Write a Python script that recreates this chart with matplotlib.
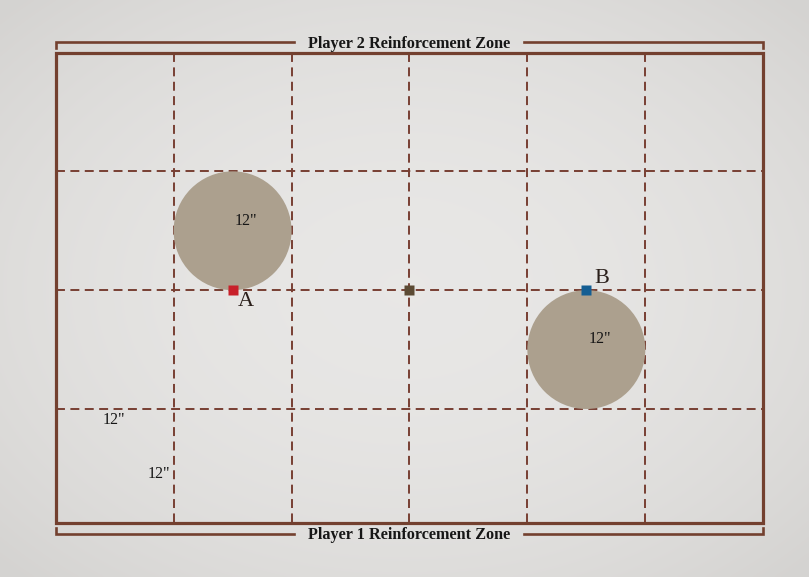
import matplotlib
matplotlib.use("Agg")
import matplotlib.pyplot as plt
import numpy as np
from matplotlib.patches import Circle, Rectangle

# Board (inches), y measured from the top edge (Player 2 side)
board_w, board_h = 72, 47.55
grid_step = 12
zone_offset = 1.05
zone_tick = 0.55

# Objective circles
circles_x = [18, 54]
circles_y = [18, 30]
circles_r = [6, 6]
circle_label_x = [19.4, 55.4]
circle_label_y = [17.0, 28.9]
circle_labels = ['12"', '12"']

# Markers
markers_x = [18, 54, 36]
markers_y = [24, 24, 24]
markers_color = ["#c8202a", "#145e93", "#5b4a33"]
marker_text = ["A", "B"]
marker_text_x = [19.3, 55.6]
marker_text_y = [25.1, 22.8]

# Measurement labels
meas_x = [5.9, 10.45]
meas_y = [37.1, 42.6]
meas_text = ['12"', '12"']

zone_titles = ["Player 2 Reinforcement Zone", "Player 1 Reinforcement Zone"]

bg = "#dedddb"
line_col = "#73402f"
dash_col = "#783f33"

fig = plt.figure(figsize=(8.09, 5.77), dpi=100)
fig.patch.set_facecolor(bg)
ax = fig.add_axes([0, 0, 1, 1])
x0, x1 = -5.67, 76.66
y0, y1 = -5.31, 52.97
ax.set_xlim(x0, x1)
ax.set_ylim(y1, y0)
ax.axis("off")

# soft vignette background (light centre, slightly darker edges)
gx = np.linspace(-1, 1, 400)
gy = np.linspace(-1, 1, 300)
XX, YY = np.meshgrid(gx, gy)
rr = np.clip(np.sqrt(XX**2 * 0.9 + YY**2 * 0.9), 0, 1.3)
light = np.array([0.910, 0.906, 0.900])
dark = np.array([0.835, 0.830, 0.822])
t = (rr / 1.3) ** 2
img = light[None, None, :] * (1 - t[..., None]) + dark[None, None, :] * t[..., None]
ax.imshow(img, extent=(x0, x1, y1, y0), aspect="auto", zorder=0, interpolation="bilinear")

serif = ["Liberation Serif", "DejaVu Serif"]

# grid
for gxv in range(grid_step, board_w, grid_step):
    ax.plot([gxv, gxv], [0, board_h], color=dash_col, lw=1.4, dashes=(4.6, 2.8), zorder=1)
for gyv in range(grid_step, int(board_h), grid_step):
    ax.plot([0, board_w], [gyv, gyv], color=dash_col, lw=1.4, dashes=(4.6, 2.8), zorder=1)

# board border
ax.add_patch(Rectangle((0, 0), board_w, board_h, fill=False, ec=line_col, lw=2.3, zorder=3))

# circles
for cx, cy, r in zip(circles_x, circles_y, circles_r):
    ax.add_patch(Circle((cx, cy), r, fc="#aca08e", ec="none", zorder=2))
for lx, ly, tx in zip(circle_label_x, circle_label_y, circle_labels):
    ax.text(lx, ly, tx, family=serif, fontsize=11.5, color="#161616", ha="center", va="center", zorder=4)

# markers
for mx, my, mc in zip(markers_x, markers_y, markers_color):
    ax.plot(mx, my, marker="s", ms=7.8, color=mc, mec="none", zorder=5)
for tx, ty, tt in zip(marker_text_x, marker_text_y, marker_text):
    ax.text(tx, ty, tt, family=serif, fontsize=16, color="#2a1f1a", ha="center", va="center", zorder=5)

for mx, my, tt in zip(meas_x, meas_y, meas_text):
    ax.text(mx, my, tt, family=serif, fontsize=11.5, color="#161616", ha="center", va="center", zorder=4)

# reinforcement zone brackets
top_y = -zone_offset
bot_y = board_h + zone_offset
gap_half = 11.7
for y, tick, title in [(top_y, zone_tick, zone_titles[0]), (bot_y, -zone_tick, zone_titles[1])]:
    ax.plot([0, 0, board_w / 2 - gap_half], [y + tick, y, y], color=line_col, lw=1.9,
            solid_joinstyle="miter", zorder=3)
    ax.plot([board_w / 2 + gap_half, board_w, board_w], [y, y, y + tick], color=line_col, lw=1.9,
            solid_joinstyle="miter", zorder=3)
    ax.text(board_w / 2, y + 0.15, title, family=serif, fontsize=11.7, fontweight="bold", color="#161616",
            ha="center", va="center", zorder=4)

fig.savefig("out.png", dpi=100, facecolor=bg)
